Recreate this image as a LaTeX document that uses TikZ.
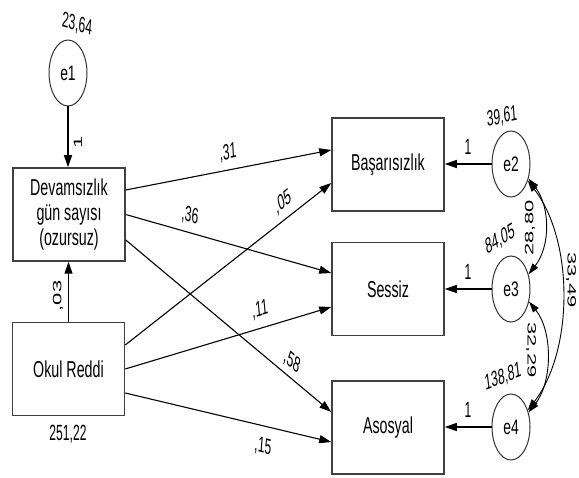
\documentclass[tikz,border=0pt]{standalone}
\usepackage{fontspec}
\setmainfont{Liberation Sans}
\usepackage{graphicx}
\usetikzlibrary{arrows.meta,shapes.geometric}
\newcommand\sqz[2][0.62]{\scalebox{#1}[1]{#2}}
\newcommand\rlab[2]{\scalebox{0.55}[1]{\rotatebox{#1}{#2}}}
\begin{document}
\begin{tikzpicture}[x=1pt,y=-1pt,
 box/.style={draw=black!75, line width=1.5pt, rectangle, minimum width=112pt, minimum height=93pt, inner sep=0pt, align=center, font=\fontsize{23}{25}\selectfont},
 err/.style={draw=black!80, line width=1pt, ellipse, minimum width=38pt, minimum height=66pt, inner sep=0pt, font=\fontsize{21}{22}\selectfont},
 arr/.style={line width=1.1pt, -{Triangle[length=12pt,width=8pt]}},
 cov/.style={line width=0.9pt, {Triangle[length=11pt,width=7pt]}-{Triangle[length=11pt,width=7pt]}},
 lab/.style={inner sep=0pt, font=\fontsize{22}{22}\selectfont}]
\useasboundingbox[fill=white] (0,0) rectangle (579,478);

\node[box] (dev) at (69,214.5) {\sqz{Devamsızlık}\\\sqz{gün sayısı}\\\sqz{(ozursuz)}};
\node[box] (okul) at (68.5,369) {\sqz{Okul Reddi}};
\node[box] (bas) at (388,164.5) {\sqz{Başarısızlık}};
\node[box] (ses) at (388,289) {\sqz{Sessiz}};
\node[box] (aso) at (388,427.5) {\sqz{Asosyal}};

\node[err] (e1) at (68,73) {\sqz[0.66]{e1}};
\node[err] (e2) at (511,164) {\sqz[0.66]{e2}};
\node[err] (e3) at (511,289) {\sqz[0.66]{e3}};
\node[err] (e4) at (511,427) {\sqz[0.66]{e4}};

\draw[arr] (e1.south) -- (e1.south |- dev.north);
\draw[arr] (okul.north) -- (okul.north |- dev.south);

\draw[arr] ([yshift=24.5pt]dev.east) -- ([yshift=14.5pt]bas.west);
\draw[arr] (dev.east) -- ([yshift=16pt]ses.west);
\draw[arr] ([yshift=-25.5pt]dev.east) -- ([yshift=15.5pt]aso.west);
\draw[arr] ([yshift=24pt]okul.east) -- ([yshift=-18.5pt]bas.west);
\draw[arr] (okul.east) -- ([yshift=-18pt]ses.west);
\draw[arr] ([yshift=-24pt]okul.east) -- ([yshift=-14.5pt]aso.west);

\draw[arr] (e2.west) -- (e2.west -| bas.east);
\draw[arr] (e3.west) -- (e3.west -| ses.east);
\draw[arr] (e4.west) -- (e4.west -| aso.east);

\draw[cov] (e2.-40) .. controls +(22,28) and +(22,-28) .. (e3.40);
\draw[cov] (e3.-35) .. controls +(24,30) and +(24,-30) .. (e4.40);
\draw[cov] (e2.-45) .. controls +(46,60) and +(46,-60) .. (e4.45);

\node[lab] (v1) at (77,25) {\rlab{-9}{23,64}};
\node[lab] (v2) at (502,117) {\rlab{7}{39,61}};
\node[lab] (v3) at (500,240) {\rlab{19}{84,05}};
\node[lab] (v4) at (503,377) {\rlab{12}{138,81}};
\node[lab] (v5) at (68,434) {\rlab{0}{251,22}};

\node[lab] (w1) at (78,142) {\rlab{90}{1}};
\node[lab] (w2) at (468,147) {\rlab{0}{1}};
\node[lab] (w3) at (468,272) {\rlab{0}{1}};
\node[lab] (w4) at (468,410) {\rlab{0}{1}};

\node[lab] (p03) at (58,296) {\rlab{90}{,03}};
\node[lab] (p31) at (228,153) {\rlab{6.6}{,31}};
\node[lab] (p36) at (190,216) {\rlab{-9.5}{,36}};
\node[lab] (p05) at (283,202) {\rlab{25}{,05}};
\node[lab] (p11) at (260,310) {\rlab{10}{,11}};
\node[lab] (p58) at (292,362) {\rlab{-26.7}{,58}};
\node[lab] (p15) at (263,447) {\rlab{-8}{,15}};

\node[lab] (c1) at (530,228) {\rlab{90}{28,80}};
\node[lab] (c2) at (531,350) {\rlab{-90}{32,29}};
\node[lab] (c3) at (571,280) {\rlab{-90}{33,49}};
\end{tikzpicture}
\end{document}
